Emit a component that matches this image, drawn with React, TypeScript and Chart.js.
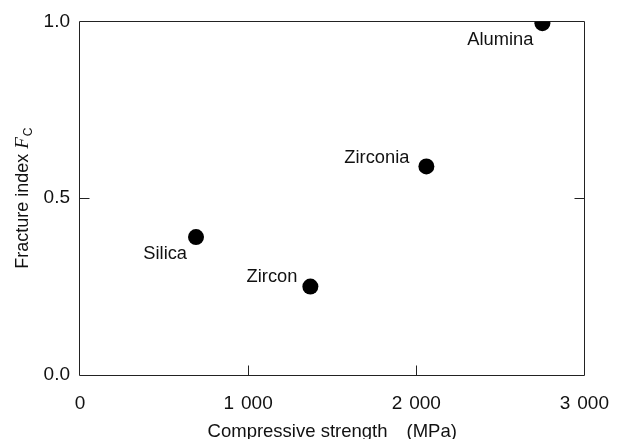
import React, { useEffect, useRef } from 'react';
import { Chart, registerables } from 'chart.js';

Chart.register(...registerables);

const materials = ['Silica', 'Zircon', 'Zirconia', 'Alumina'];
const compressiveStrength = [690, 1370, 2060, 2750];
const fractureIndex = [0.39, 0.25, 0.59, 0.995];
const xTickValues = [0, 1000, 2000, 3000];
const xTickLabels = ['0', '1 \u200A000', '2 \u200A000', '3 \u200A000'];
const yTickValues = [0, 0.5, 1];
const yTickLabels = ['0.0', '0.5', '1.0'];
const xTitleParts = ['Compressive strength', '(MPa)'];
const yTitleParts = ['Fracture index ', 'F', 'C'];

// label placement (style, not data): [dx, dy] from the point centre, text right-aligned, baseline
const labelOffsets = [
  [-9, 22],
  [-13, -5],
  [-17, -3],
  [-9, 22],
];

const SANS = '"Liberation Sans", Arial, Helvetica, sans-serif';
const SERIF = '"Liberation Serif", "Times New Roman", serif';
const INK = '#111';

const framePlugin = {
  id: 'frameTicks',
  beforeDatasetsDraw(chart: any) {
    const { ctx, chartArea: a, scales } = chart;
    const L = Math.round(a.left) - 0.5;
    const R = Math.round(a.right) + 0.5;
    const T = Math.floor(a.top) + 0.5;
    const B = Math.round(a.bottom) + 0.5;
    ctx.save();
    ctx.strokeStyle = '#222';
    ctx.lineWidth = 1;
    ctx.beginPath();
    ctx.rect(L, T, R - L, B - T);
    const tl = 10;
    scales.x.ticks.forEach((t: any) => {
      if (t.value <= scales.x.min || t.value >= scales.x.max) return;
      const px = Math.round(scales.x.getPixelForValue(t.value)) + 0.5;
      ctx.moveTo(px, B);
      ctx.lineTo(px, B - tl);
    });
    scales.y.ticks.forEach((t: any) => {
      if (t.value <= scales.y.min || t.value >= scales.y.max) return;
      const py = Math.round(scales.y.getPixelForValue(t.value)) + 0.5;
      ctx.moveTo(L, py);
      ctx.lineTo(L + tl, py);
      ctx.moveTo(R, py);
      ctx.lineTo(R - tl, py);
    });
    ctx.stroke();
    ctx.restore();
  },
  afterDraw(chart: any) {
    const { ctx, chartArea: a } = chart;
    ctx.save();
    ctx.fillStyle = INK;

    // point labels
    const meta = chart.getDatasetMeta(0);
    ctx.textAlign = 'right';
    ctx.textBaseline = 'alphabetic';
    meta.data.forEach((el: any, i: number) => {
      const [dx, dy] = labelOffsets[i];
      ctx.font = `18.3px ${SANS}`;
      ctx.fillText(materials[i], el.x + dx, el.y + dy);
    });

    // x axis title
    ctx.textAlign = 'left';
    ctx.font = `18.5px ${SANS}`;
    const w1 = ctx.measureText(xTitleParts[0]).width;
    const w2 = ctx.measureText(xTitleParts[1]).width;
    const gap = 19;
    const total = w1 + gap + w2;
    const sx = (a.left + a.right) / 2 - total / 2;
    const by = a.bottom + 62;
    ctx.fillText(xTitleParts[0], sx, by);
    ctx.fillText(xTitleParts[1], sx + w1 + gap, by);

    // y axis title (rotated)
    ctx.font = `18px ${SANS}`;
    const wa = ctx.measureText(yTitleParts[0]).width;
    ctx.font = `italic 19px ${SERIF}`;
    const wf = ctx.measureText(yTitleParts[1]).width;
    ctx.font = `12px ${SANS}`;
    const wc = ctx.measureText(yTitleParts[2]).width;
    const len = wa + wf + 1 + wc;
    const cy = (a.top + a.bottom) / 2;
    ctx.translate(a.left - 52, cy + len / 2);
    ctx.rotate(-Math.PI / 2);
    let x = 0;
    ctx.font = `18px ${SANS}`;
    ctx.fillText(yTitleParts[0], x, 0);
    x += wa;
    ctx.font = `italic 19px ${SERIF}`;
    ctx.fillText(yTitleParts[1], x, 0);
    x += wf + 1;
    ctx.font = `12px ${SANS}`;
    ctx.fillText(yTitleParts[2], x, 4);
    ctx.restore();
  },
};

export default function App() {
  const ref = useRef<HTMLCanvasElement | null>(null);

  useEffect(() => {
    if (!ref.current) return;
    const chart = new Chart(ref.current, {
      type: 'scatter',
      data: {
        datasets: [
          {
            label: 'Fracture index',
            data: compressiveStrength.map((v, i) => ({ x: v, y: fractureIndex[i] })),
            backgroundColor: '#000',
            borderWidth: 0,
            pointRadius: 8,
            pointHoverRadius: 8,
          },
        ],
      },
      options: {
        animation: false,
        responsive: false,
        devicePixelRatio: 1,
        layout: { padding: { top: 19.5, right: 41, left: 0, bottom: 0 } },
        plugins: {
          legend: { display: false },
          tooltip: { enabled: false },
          title: { display: false },
        },
        scales: {
          x: {
            type: 'linear',
            min: 0,
            max: 3000,
            afterBuildTicks: (s: any) => {
              s.ticks = xTickValues.map((v) => ({ value: v }));
            },
            afterFit: (s: any) => {
              s.height = 64;
            },
            grid: { display: false, drawTicks: false },
            border: { display: false },
            ticks: {
              padding: 17,
              maxRotation: 0,
              autoSkip: false,
              color: INK,
              font: { family: SANS, size: 19 },
              callback: (v: any) => {
                const i = xTickValues.indexOf(Number(v));
                return i >= 0 ? xTickLabels[i] : '';
              },
            },
          },
          y: {
            type: 'linear',
            min: 0,
            max: 1,
            afterBuildTicks: (s: any) => {
              s.ticks = yTickValues.map((v) => ({ value: v }));
            },
            afterFit: (s: any) => {
              s.width = 80;
            },
            grid: { display: false, drawTicks: false },
            border: { display: false },
            ticks: {
              padding: 10,
              autoSkip: false,
              color: INK,
              font: { family: SANS, size: 19 },
              callback: (v: any) => {
                const i = yTickValues.findIndex((t) => Math.abs(t - Number(v)) < 1e-9);
                return i >= 0 ? yTickLabels[i] : '';
              },
            },
          },
        },
      },
      plugins: [framePlugin],
    });
    return () => chart.destroy();
  }, []);

  return (
    <div style={{ position: 'fixed', left: 0, top: 0, width: 626, height: 439, background: '#fff' }}>
      <canvas ref={ref} width={626} height={439} style={{ display: 'block' }} />
    </div>
  );
}
